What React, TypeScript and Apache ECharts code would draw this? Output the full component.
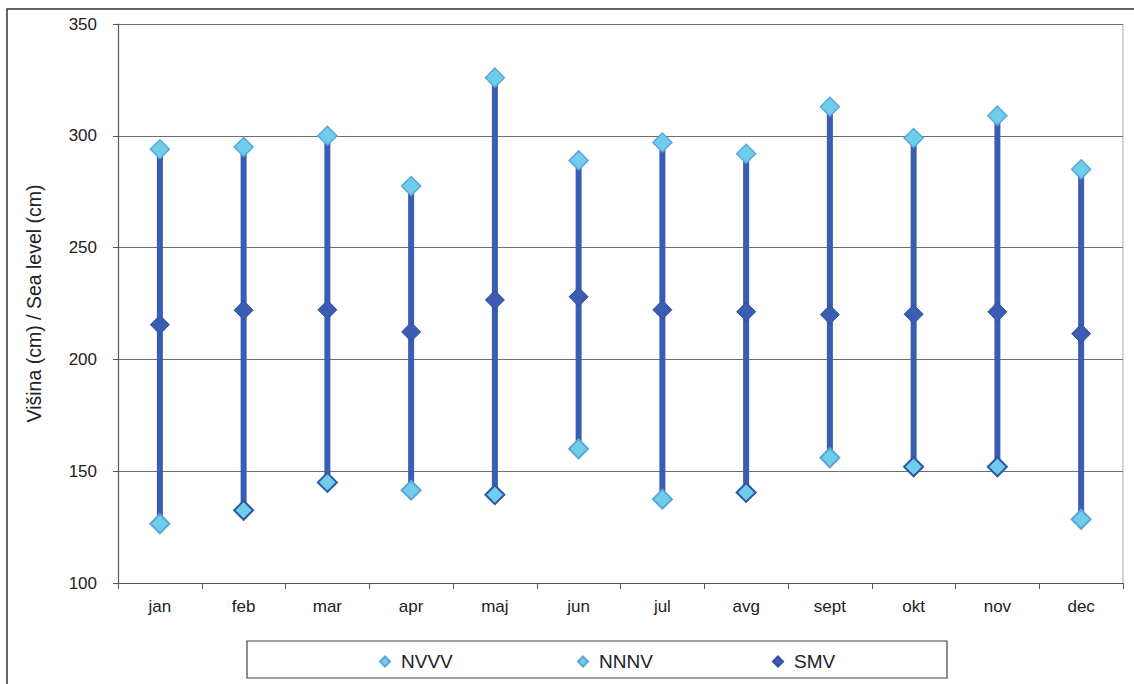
import React, { useEffect, useRef } from "react";
import * as echarts from "echarts";

const months = ["jan", "feb", "mar", "apr", "maj", "jun", "jul", "avg", "sept", "okt", "nov", "dec"];
const nvvv = [294, 295, 300, 277.5, 326, 289, 297, 292, 313, 299, 309, 285];
const nnnv = [126.5, 132.5, 145, 141.5, 139.5, 160, 137.5, 140.5, 156, 152, 152, 128.5];
const smv = [215.5, 222, 222.2, 212.3, 226.6, 228, 222.2, 221.3, 220, 220.2, 221.3, 211.5];
const nnnvDarkBorder = [false, true, true, false, true, false, false, true, false, true, true, false];

const lightFill = "#6fcdec";
const lightBorder = "#5ba6d9";
const darkBorder = "#2f56a8";
const smvFill = "#3a5db3";
const lineColor = "#3a5db1";
const fontFamily = "'Liberation Sans', Arial, sans-serif";

export default function App() {
  const ref = useRef<HTMLDivElement>(null);
  useEffect(() => {
    if (!ref.current) return;
    const chart = echarts.init(ref.current, null, { renderer: "svg" });
    const legendText = { fontSize: 19, color: "#222", fontFamily, padding: [0, 0, 0, 6] };
    const option: any = {
      animation: false,
      backgroundColor: "#ffffff",
      textStyle: { fontFamily },
      grid: { left: 118, right: 11, top: 24, bottom: 101 },
      xAxis: {
        type: "category",
        data: months,
        boundaryGap: true,
        axisLine: { lineStyle: { color: "#555", width: 1.2 } },
        axisTick: { show: true, length: 6, alignWithLabel: false, lineStyle: { color: "#555" } },
        axisLabel: { color: "#222", fontSize: 17, margin: 15, fontFamily },
      },
      yAxis: {
        type: "value",
        min: 100,
        max: 350,
        interval: 50,
        name: "Višina (cm) / Sea level (cm)",
        nameLocation: "middle",
        nameGap: 74,
        nameRotate: 90,
        nameTextStyle: { color: "#222", fontSize: 19.5, fontFamily },
        axisLine: { show: true, lineStyle: { color: "#555", width: 1.2 } },
        axisTick: { show: true, length: 5, lineStyle: { color: "#555" } },
        axisLabel: { color: "#222", fontSize: 17, margin: 21, fontFamily },
        splitLine: { show: true, lineStyle: { color: "#6e6e6e", width: 1.2 } },
      },
      legend: [
        {
          data: [{ name: "NVVV", icon: "diamond" }],
          left: 374, top: 647, itemWidth: 10, itemHeight: 10, itemGap: 0,
          textStyle: legendText,
        },
        {
          data: [{ name: "NNNV", icon: "diamond" }],
          left: 572, top: 647, itemWidth: 10, itemHeight: 10, itemGap: 0,
          textStyle: legendText,
        },
        {
          data: [{ name: "SMV", icon: "diamond" }],
          left: 767, top: 647, itemWidth: 10, itemHeight: 10, itemGap: 0,
          textStyle: legendText,
        },
      ],
      graphic: [
        {
          type: "rect",
          shape: { x: 7, y: 9, width: 1200, height: 800 },
          style: { fill: "none", stroke: "#333", lineWidth: 1.5 },
          z: -10,
          silent: true,
        },
        {
          type: "line",
          shape: { x1: 1123, y1: 24, x2: 1123, y2: 583 },
          style: { stroke: "#aaa", lineWidth: 1 },
          silent: true,
        },
        {
          type: "rect",
          shape: { x: 247, y: 641, width: 700, height: 37 },
          style: { fill: "#fff", stroke: "#444", lineWidth: 1.2 },
          z: -5,
          silent: true,
        },
      ],
      series: [
        {
          type: "custom",
          name: "range",
          data: months.map((_, i) => [i, nnnv[i], nvvv[i]]),
          renderItem: (params: any, api: any) => {
            const lo = api.coord([api.value(0), api.value(1)]);
            const hi = api.coord([api.value(0), api.value(2)]);
            return {
              type: "line",
              shape: { x1: lo[0], y1: lo[1], x2: hi[0], y2: hi[1] },
              style: { stroke: lineColor, lineWidth: 6 },
            };
          },
          z: 1,
          silent: true,
        },
        {
          type: "scatter",
          name: "NVVV",
          data: nvvv,
          symbol: "diamond",
          symbolSize: 19,
          itemStyle: { color: lightFill, borderColor: lightBorder, borderWidth: 1.5, opacity: 1 },
          z: 3,
        },
        {
          type: "scatter",
          name: "NNNV",
          data: nnnv.map((v, i) => ({
            value: v,
            itemStyle: { borderColor: nnnvDarkBorder[i] ? darkBorder : lightBorder },
          })),
          symbol: "diamond",
          symbolSize: 19,
          itemStyle: { color: lightFill, borderColor: lightBorder, borderWidth: 2, opacity: 1 },
          z: 3,
        },
        {
          type: "scatter",
          name: "SMV",
          data: smv,
          symbol: "diamond",
          symbolSize: 19,
          itemStyle: { color: smvFill, borderColor: "#2d4f9e", borderWidth: 1, opacity: 1 },
          z: 3,
        },
      ],
    };
    chart.setOption(option);
    return () => chart.dispose();
  }, []);
  return (
    <div
      ref={ref}
      style={{ position: "absolute", left: 0, top: 0, width: 1134, height: 684 }}
    />
  );
}
